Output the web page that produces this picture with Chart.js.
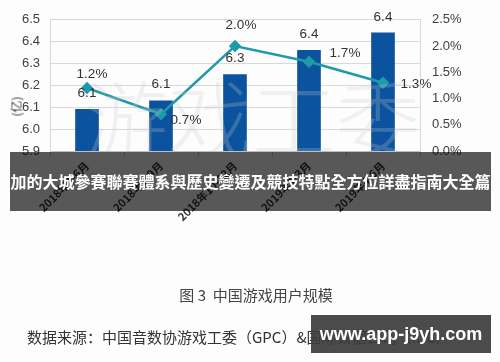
<!DOCTYPE html>
<html>
<head>
<meta charset="utf-8">
<script src="https://cdn.jsdelivr.net/npm/chart.js@4.4.1/dist/chart.umd.min.js"></script>
<style>
  html, body { margin: 0; padding: 0; background: #fdfdfd; }
  #wrap { position: relative; width: 500px; height: 362px; overflow: hidden; }
  #chart { position: absolute; left: 0; top: 0; }
  .unit { position: absolute; left: 3px; top: 98px; font: 12px "Noto Sans CJK SC", sans-serif; color: #333;
          transform: rotate(-90deg); transform-origin: center; width: 26px; text-align: center; }
  .banner { position: absolute; left: 10px; top: 152px; width: 481px; height: 59px; background: rgba(0,0,0,0.65);
            color: #fff; font: bold 16px "Noto Sans CJK TC", sans-serif; line-height: 59px; text-align: center;
            white-space: nowrap; overflow: hidden; }
  .caption { position: absolute; left: 0; width: 512px; top: 284px; text-align: center;
             font: 15px "Noto Sans CJK SC", sans-serif; color: #444; }
  .source { position: absolute; left: 27px; top: 326px; font: 15px "Noto Sans CJK SC", sans-serif; color: #333; white-space: nowrap; }
  .badge { position: absolute; left: 311px; top: 315px; width: 180px; height: 38px; background: rgba(60,60,60,0.92);
           color: #fff; font: bold 18px "Liberation Sans", Arial, sans-serif; line-height: 38px; text-align: center; }
</style>
</head>
<body>
<div id="wrap">
  <canvas id="chart" width="500" height="362"></canvas>
  <div class="unit">(亿)</div>
  <div class="banner">加的大城參賽聯賽體系與歷史變遷及競技特點全方位詳盡指南大全篇</div>
  <div class="caption">图 3&nbsp; 中国游戏用户规模</div>
  <div class="source">数据来源：中国音数协游戏工委（GPC）&amp;国际数据公司（IDC）</div>
  <div class="badge">www.app-j9yh.com</div>
</div>
<script>
// chart data
const categories = ["2018年4-6月", "2018年7-9月", "2018年10-12月", "2019年1-3月", "2019年4-6月"];
const userCounts = [6.09, 6.13, 6.25, 6.36, 6.44];   // 亿
const growthRates = [1.2, 0.7, 2.0, 1.7, 1.3];       // %

const axisFont = { family: "'Liberation Sans', Arial, sans-serif", size: 13 };

// offsets for the percentage labels (dx, dy from each point)
const rateLabelOffsets = [[5, -14], [25, 6], [6, -21], [36, -9], [33, 2]];

const labelPlugin = {
  id: "labels",
  afterDatasetsDraw(chart) {
    const ctx = chart.ctx;
    const area = chart.chartArea;

    // faint watermark over the plot
    ctx.save();
    ctx.beginPath();
    ctx.rect(area.left, area.top, area.right - area.left, area.bottom - area.top);
    ctx.clip();
    ctx.fillStyle = "rgba(205,205,205,0.25)";
    ctx.font = "300 84px 'Noto Sans CJK SC'";
    ctx.textAlign = "center";
    ctx.textBaseline = "middle";
    ctx.fillText("游戏工委", 252, 120);
    ctx.restore();

    ctx.save();
    ctx.font = "13.5px 'Liberation Sans', Arial, sans-serif";
    ctx.fillStyle = "#333";
    ctx.textAlign = "center";
    ctx.textBaseline = "middle";

    chart.getDatasetMeta(1).data.forEach((el, i) => {
      ctx.fillText(userCounts[i].toFixed(1), el.x, el.y - 16);
    });
    chart.getDatasetMeta(0).data.forEach((el, i) => {
      const [dx, dy] = rateLabelOffsets[i];
      ctx.fillText(growthRates[i].toFixed(1) + "%", el.x + dx, el.y + dy);
    });
    ctx.restore();
  }
};

new Chart(document.getElementById("chart"), {
  data: {
    labels: categories,
    datasets: [
      {
        type: "line",
        data: growthRates,
        yAxisID: "y1",
        order: 0,
        borderColor: "#1e9aa8",
        backgroundColor: "#1e9aa8",
        borderWidth: 2.5,
        pointStyle: "rectRot",
        pointRadius: 4.5,
        tension: 0
      },
      {
        type: "bar",
        data: userCounts,
        yAxisID: "y",
        order: 1,
        backgroundColor: "#0b539f",
        barThickness: 23
      }
    ]
  },
  options: {
    responsive: false,
    animation: false,
    layout: { padding: { top: 19, left: 0, right: 0, bottom: 0 } },
    plugins: { legend: { display: false }, tooltip: { enabled: false } },
    scales: {
      x: {
        grid: { display: true, drawOnChartArea: false, tickLength: 5, color: "#bfbfbf", offset: true },
        border: { color: "#bfbfbf" },
        ticks: { minRotation: 45, maxRotation: 45, color: "#333", font: { family: "'Noto Sans CJK SC'", size: 11, weight: "bold" } },
        afterFit(scale) { scale.height = 362 - 151; }
      },
      y: {
        position: "left",
        min: 5.9,
        max: 6.5,
        ticks: { stepSize: 0.1, padding: 10, color: "#404040", font: axisFont, callback: v => v.toFixed(1) },
        grid: { color: "#d9d9d9", drawTicks: false },
        border: { color: "#d9d9d9" },
        afterFit(scale) { scale.width = 50; }
      },
      y1: {
        position: "right",
        min: 0,
        max: 2.5,
        ticks: { stepSize: 0.5, padding: 12, color: "#404040", font: axisFont, callback: v => v.toFixed(1) + "%" },
        grid: { drawOnChartArea: false, drawTicks: false },
        border: { color: "#d9d9d9" },
        afterFit(scale) { scale.width = 80; }
      }
    }
  },
  plugins: [labelPlugin]
});
</script>
</body>
</html>
